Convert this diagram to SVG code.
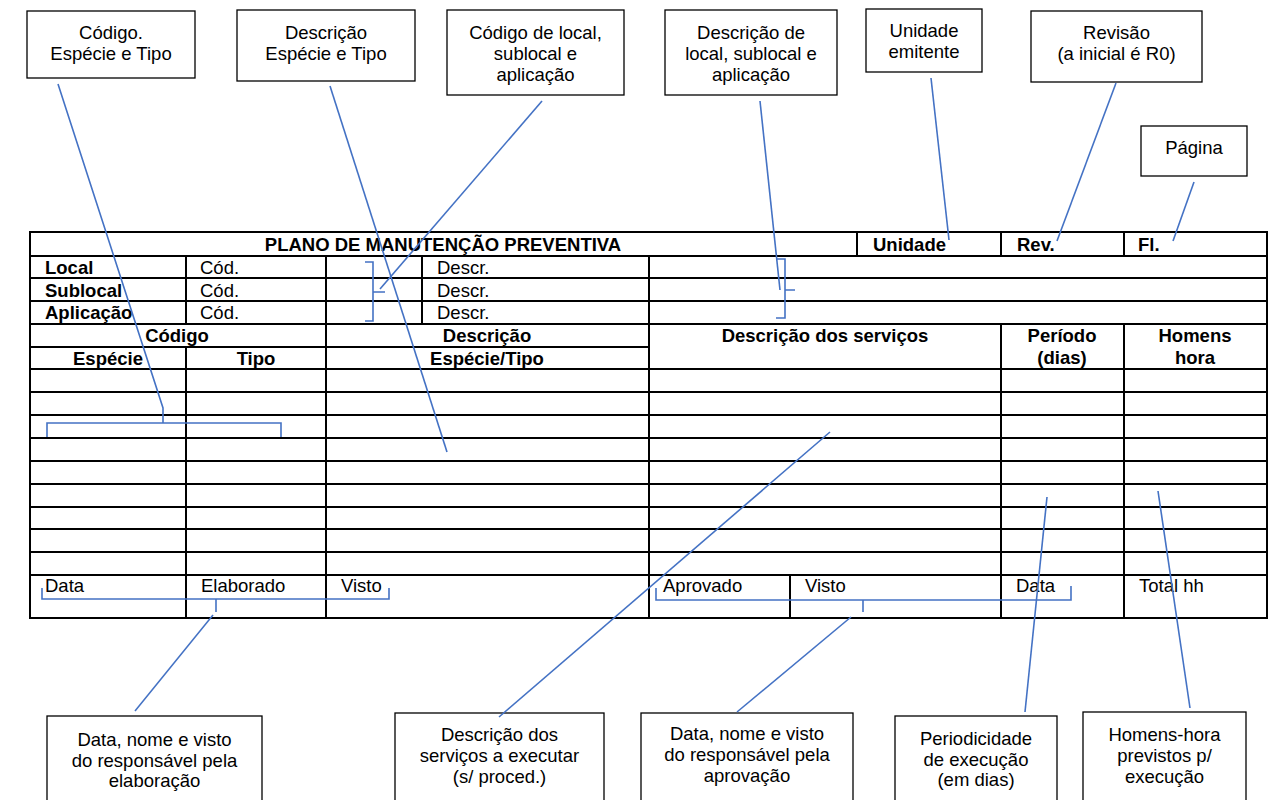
<svg xmlns="http://www.w3.org/2000/svg" width="1271" height="800" viewBox="0 0 1271 800">
<style>
text{font-family:"Liberation Sans",Arial,sans-serif;font-size:18.5px;fill:#000}
.b{font-weight:bold}
.m{text-anchor:middle}
.box{fill:#fff;stroke:#000;stroke-width:1.3}
.tl{stroke:#000;stroke-width:2;fill:none}
.c{stroke:#4472C4;stroke-width:1.6;fill:none}
</style>
<rect width="1271" height="800" fill="#fff"/>
<g id="table">
<rect class="tl" x="30" y="232" width="1237" height="386"/>
<path class="tl" d="M30 256H1267M30 278H1267M30 301H1267M30 324H1267M30 347H649M30 369H1267M30 392H1267M30 415H1267M30 438H1267M30 461H1267M30 484H1267M30 507H1267M30 529H1267M30 552H1267M30 575H1267"/>
<path class="tl" d="M857 232V256M1001 232V256M1124 232V256M1001 324V618M1124 324V618M186 256V324M186 347V618M326 256V618M422 256V324M649 256V618M790 575V618"/>
<text class="b m" x="443" y="251">PLANO DE MANUTENÇÃO PREVENTIVA</text>
<text class="b" x="873" y="251">Unidade</text>
<text class="b" x="1017" y="251">Rev.</text>
<text class="b" x="1138" y="251">Fl.</text>
<text class="b" x="45" y="274">Local</text>
<text class="b" x="45" y="297">Sublocal</text>
<text class="b" x="45" y="319">Aplicação</text>
<text x="200" y="274">Cód.</text>
<text x="200" y="297">Cód.</text>
<text x="200" y="319">Cód.</text>
<text x="437" y="274">Descr.</text>
<text x="437" y="297">Descr.</text>
<text x="437" y="319">Descr.</text>
<text class="b m" x="177" y="342">Código</text>
<text class="b m" x="108" y="365">Espécie</text>
<text class="b m" x="256" y="365">Tipo</text>
<text class="b m" x="487" y="342">Descrição</text>
<text class="b m" x="487" y="365">Espécie/Tipo</text>
<text class="b m" x="825" y="342">Descrição dos serviços</text>
<text class="b m" x="1062" y="342">Período</text>
<text class="b m" x="1062" y="364">(dias)</text>
<text class="b m" x="1195" y="342">Homens</text>
<text class="b m" x="1195" y="364">hora</text>
<text x="45" y="592">Data</text>
<text x="201" y="592">Elaborado</text>
<text x="341" y="592">Visto</text>
<text x="663" y="592">Aprovado</text>
<text x="805" y="592">Visto</text>
<text x="1016" y="592">Data</text>
<text x="1139" y="592">Total hh</text>
</g>
<g id="n-codigo"><rect class="box" x="27" y="11" width="168" height="67"/><text class="m" x="111" y="39">Código.</text><text class="m" x="111" y="60">Espécie e Tipo</text></g>
<g id="n-descricao"><rect class="box" x="237" y="10" width="178" height="71"/><text class="m" x="326" y="39">Descrição</text><text class="m" x="326" y="60">Espécie e Tipo</text></g>
<g id="n-codlocal"><rect class="box" x="447" y="10" width="177" height="85"/><text class="m" x="535.5" y="39">Código de local,</text><text class="m" x="535.5" y="60">sublocal e</text><text class="m" x="535.5" y="81">aplicação</text></g>
<g id="n-desclocal"><rect class="box" x="665" y="10" width="172" height="85"/><text class="m" x="751" y="39">Descrição de</text><text class="m" x="751" y="60">local, sublocal e</text><text class="m" x="751" y="81">aplicação</text></g>
<g id="n-unidade"><rect class="box" x="866" y="9" width="116" height="63"/><text class="m" x="924" y="37">Unidade</text><text class="m" x="924" y="58">emitente</text></g>
<g id="n-revisao"><rect class="box" x="1031" y="11" width="171" height="71"/><text class="m" x="1116.5" y="39">Revisão</text><text class="m" x="1116.5" y="60">(a inicial é R0)</text></g>
<g id="n-pagina"><rect class="box" x="1141" y="126" width="106" height="50"/><text class="m" x="1194" y="154">Página</text></g>
<g id="n-elaboracao"><rect class="box" x="47" y="716" width="215" height="90"/><text class="m" x="154.5" y="746">Data, nome e visto</text><text class="m" x="154.5" y="767">do responsável pela</text><text class="m" x="154.5" y="787">elaboração</text></g>
<g id="n-servicos"><rect class="box" x="395" y="713" width="209" height="93"/><text class="m" x="499.5" y="741">Descrição dos</text><text class="m" x="499.5" y="762">serviços a executar</text><text class="m" x="499.5" y="783">(s/ proced.)</text></g>
<g id="n-aprovacao"><rect class="box" x="641" y="713" width="212" height="93"/><text class="m" x="747" y="740">Data, nome e visto</text><text class="m" x="747" y="761">do responsável pela</text><text class="m" x="747" y="782">aprovação</text></g>
<g id="n-periodicidade"><rect class="box" x="895" y="716" width="162" height="90"/><text class="m" x="976" y="745">Periodicidade</text><text class="m" x="976" y="766">de execução</text><text class="m" x="976" y="786">(em dias)</text></g>
<g id="n-homenshora"><rect class="box" x="1083" y="712" width="163" height="94"/><text class="m" x="1164.5" y="741">Homens-hora</text><text class="m" x="1164.5" y="762">previstos p/</text><text class="m" x="1164.5" y="783">execução</text></g>
<g id="connectors">
<path class="c" d="M58 84L163 408V423M47 437V423H281V437"/>
<path class="c" d="M330 86L447 452"/>
<path class="c" d="M542 101L380 289"/>
<path class="c" d="M365 262H373V321H365M373 292H385"/>
<path class="c" d="M760 101L780 290"/>
<path class="c" d="M776 259H785V318H776M785 290H795"/>
<path class="c" d="M931 78L949 240"/>
<path class="c" d="M1116 83L1057 241"/>
<path class="c" d="M1194 182L1173 241"/>
<path class="c" d="M42 588V599H389V588M216 599V612"/>
<path class="c" d="M213 615L135 711"/>
<path class="c" d="M656 588V600H1071V586M863 600V612"/>
<path class="c" d="M851 617L737 712"/>
<path class="c" d="M830 432L499 717"/>
<path class="c" d="M1047 497L1025 712"/>
<path class="c" d="M1158 491L1190 708"/>
</g>
</svg>
